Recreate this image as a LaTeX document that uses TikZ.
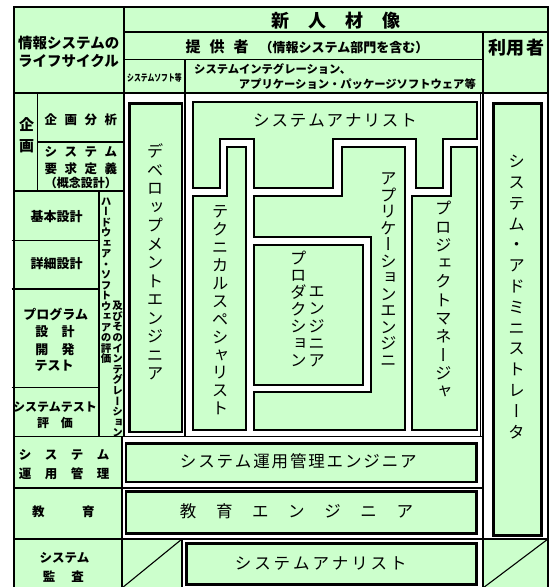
\documentclass[tikz,border=0pt]{standalone}
\usepackage{graphicx}
\usepackage{fontspec}
\setmainfont{Noto Sans CJK JP}
\newfontfamily\jpv[RawFeature=+vert]{Noto Sans CJK JP}
\definecolor{lg}{RGB}{204,255,204}
\makeatletter
\newcommand\spc[2]{\def\spsep{}\@tfor\chr:=#2\do{\spsep\chr\def\spsep{\hspace{#1}}}}
\newcommand\vstk[2]{\vbox{\baselineskip=#1\relax\lineskiplimit=-\maxdimen\@tfor\chr:=#2\do{\hbox to 1em{\hss\vrule height .88em depth .12em width 0pt\chr\hss}}}}
\makeatother
\begin{document}
\begin{tikzpicture}[x=1pt,y=-1pt,
  tl/.style={line width=1.1pt},
  tbox/.style={draw,line width=2.8pt,fill=lg},
  sbox/.style={draw,line width=2pt,fill=lg,line join=miter},
  bl/.style={inner sep=0pt,font=\bfseries\fontsize{#1}{#1}\selectfont},
  vbl/.style={inner sep=0pt,font=\jpv\bfseries\fontsize{#1}{#1}\selectfont},
  vl/.style={inner sep=0pt,font=\jpv\fontsize{#1}{#1}\selectfont},
  hl/.style={inner sep=0pt,font=\fontsize{#1}{#1}\selectfont}]
\useasboundingbox (0,0) rectangle (552,587);
\fill[white] (0,0) rectangle (552,587);
\fill[lg] (14,7) rectangle (548,592);
\fill[white] (124,93) rectangle (483,436.7);
\fill[white] (483,93) rectangle (548,539);
\fill[white] (122,436.7) rectangle (483,539);
\fill[white] (182,539) rectangle (483,592);
% table lines
\draw[tl] (14,7) rectangle (548,592);
\draw[tl] (124,7) -- (124,436.7);
\draw[tl] (122,436.7) -- (122,592);
\draw[tl] (124,32) -- (548,32);
\draw[tl] (124,59.5) -- (483,59.5);
\draw[tl] (14,93) -- (548,93);
\draw[tl] (483,32) -- (483,592);
\draw[line width=0.8pt] (480.8,93) -- (480.8,436.7);
\draw[tl] (185,59.5) -- (185,436.7);
\draw[tl] (37.7,93) -- (37.7,191);
\draw[tl] (37.7,142) -- (124,142);
\draw[tl] (14,191) -- (124,191);
\draw[tl] (99,191) -- (99,436.7);
\draw[tl] (11.7,240.7) -- (99,240.7);
\draw[tl] (11.7,289) -- (99,289);
\draw[tl] (11.7,387.7) -- (99,387.7);
\draw[tl] (14,436.7) -- (483,436.7);
\draw[tl] (14,488) -- (483,488);
\draw[tl] (14,539) -- (548,539);
\draw[tl] (182,539) -- (182,592);
\draw[tl] (122,588) -- (182,539);
\draw[tl] (483,588) -- (548,539);
% thick boxes
\draw[tbox] (129.7,103.7) rectangle (181.9,431.9);
\draw[tbox] (493.1,103.1) rectangle (541.6,535.6);
\draw[tbox] (125.9,443.1) rectangle (476.6,481.9);
\draw[tbox] (125.9,491.4) rectangle (476.6,533.6);
\draw[tbox] (186.4,543.1) rectangle (476.6,584.1);
% central shapes
\draw[sbox] (192.7,101.7) -- (477.3,101.7) -- (477.3,139.3) -- (443.3,139.3) -- (443.3,188.3) -- (416,188.3) -- (416,139.3) -- (333.3,139.3) -- (333.3,188.3) -- (254,188.3) -- (254,139.3) -- (220,139.3) -- (220,188.3) -- (192.7,188.3) -- cycle;
\draw[sbox] (192.7,196) -- (227.3,196) -- (227.3,147.3) -- (246,147.3) -- (246,430) -- (192.7,430) -- cycle;
\draw[sbox] (254,196) -- (341.7,196) -- (341.7,147.3) -- (405,147.3) -- (405,430) -- (254,430) -- (254,391.7) -- (370.7,391.7) -- (370.7,236.7) -- (254,236.7) -- cycle;
\draw[sbox] (254,245) rectangle (362.7,385);
\draw[sbox] (412.3,196) -- (450.7,196) -- (450.7,147.3) -- (477.3,147.3) -- (477.3,430) -- (412.3,430) -- cycle;
% header texts
\node[bl=14.5,anchor=west] (info1) at (18,43.5) {情報システムの};
\node[bl=14.5,anchor=west] (info2) at (18,60.5) {ライフサイクル};
\node[bl=18] (newjin) at (336,21) {\spc{19pt}{新人材像}};
\node[inner sep=0pt] (teikyo) at (307,46.5) {{\bfseries\fontsize{15}{15}\selectfont\spc{9pt}{提供者}}\hspace{11pt}{\bfseries\fontsize{13}{13}\selectfont （情報システム部門を含む）}};
\node[bl=18] (riyo) at (516,48) {\spc{1pt}{利用者}};
\node[bl=9.5] (syssoft) at (154.5,77.5) {\scalebox{0.72}[1]{システムソフト等}};
\node[bl=11.3,anchor=west] (si1) at (194,69.5) {システムインテグレーション、};
\node[bl=11.3,anchor=east] (si2) at (476,84.5) {アプリケーション・パッケージソフトウェア等};
% left column texts
\node[bl=15] (ki) at (26.7,124.3) {企};
\node[bl=15] (ga) at (26.7,146.7) {画};
\node[bl=12.5] (kikaku) at (81,119.3) {\spc{7.5pt}{企画分析}};
\node[bl=12.5] (yokyu1) at (81,152) {\spc{7.5pt}{システム}};
\node[bl=12.5] (yokyu2) at (81,169) {\spc{7.5pt}{要求定義}};
\node[bl=12] (yokyu3) at (81,182.5) {（概念設計）};
\node[bl=13] (kihon) at (56.7,216.7) {基本設計};
\node[bl=13] (shosai) at (56.7,264) {詳細設計};
\node[bl=13] (prog1) at (55.8,314.3) {プログラム};
\node[bl=13] (prog2) at (55,331.7) {\spc{13.5pt}{設計}};
\node[bl=13] (prog3) at (55,349.3) {\spc{13.5pt}{開発}};
\node[bl=13] (prog4) at (54,366) {テスト};
\node[bl=12] (stest1) at (55,407.3) {システムテスト};
\node[bl=12] (stest2) at (55,423.3) {\spc{12pt}{評価}};
\node[vbl=10.5] (hw1) at (106,279.8) {\vstk{10.5pt}{ハードウェア・ソフトウェアの評価}};
\node[vbl=10.5] (hw2) at (117.5,369.4) {\vstk{10.6pt}{及びそのインテグレーション}};
\node[bl=12.5] (unyo1) at (64.2,455) {\spc{13.5pt}{システム}};
\node[bl=12.5] (unyo2) at (64.2,473.3) {\spc{13.5pt}{運用管理}};
\node[bl=12.5] (kyoiku) at (63.3,511.7) {\spc{37.5pt}{教育}};
\node[bl=12.5] (kansa1) at (64.5,558.3) {システム};
\node[bl=12.5] (kansa2) at (63.3,576.7) {\spc{16pt}{監査}};
% big labels
\node[vl=16.5] (devl) at (155,262.5) {\vstk{18.47pt}{デベロップメントエンジニア}};
\node[vl=16.5] (techl) at (220,310) {\vstk{17.9pt}{テクニカルスペシャリスト}};
\node[vl=16.5] (prodl1) at (298.3,309.2) {\vstk{16.95pt}{プロダクション}};
\node[vl=16.5] (prodl2) at (316.7,325.8) {\vstk{17.1pt}{エンジニア}};
\node[vl=16.5] (appl) at (388.3,269.2) {\vstk{16.5pt}{アプリケーションエンジニ}};
\node[vl=16.5] (pml) at (443.3,300) {\vstk{18.3pt}{プロジェクトマネージャ}};
\node[vl=16.5] (adml) at (516.5,296.7) {\vstk{20.8pt}{システム・アドミニストレータ}};
\node[hl=16.5] (sal) at (335,120.7) {\spc{1.9pt}{システムアナリスト}};
\node[hl=16.5] (opsl) at (298.3,461.7) {\spc{1.85pt}{システム運用管理エンジニア}};
\node[hl=16.5] (edul) at (296.5,511.7) {\spc{19.6pt}{教育エンジニア}};
\node[hl=16.5] (sa2l) at (320.8,563.3) {\spc{2.9pt}{システムアナリスト}};
\end{tikzpicture}
\end{document}
